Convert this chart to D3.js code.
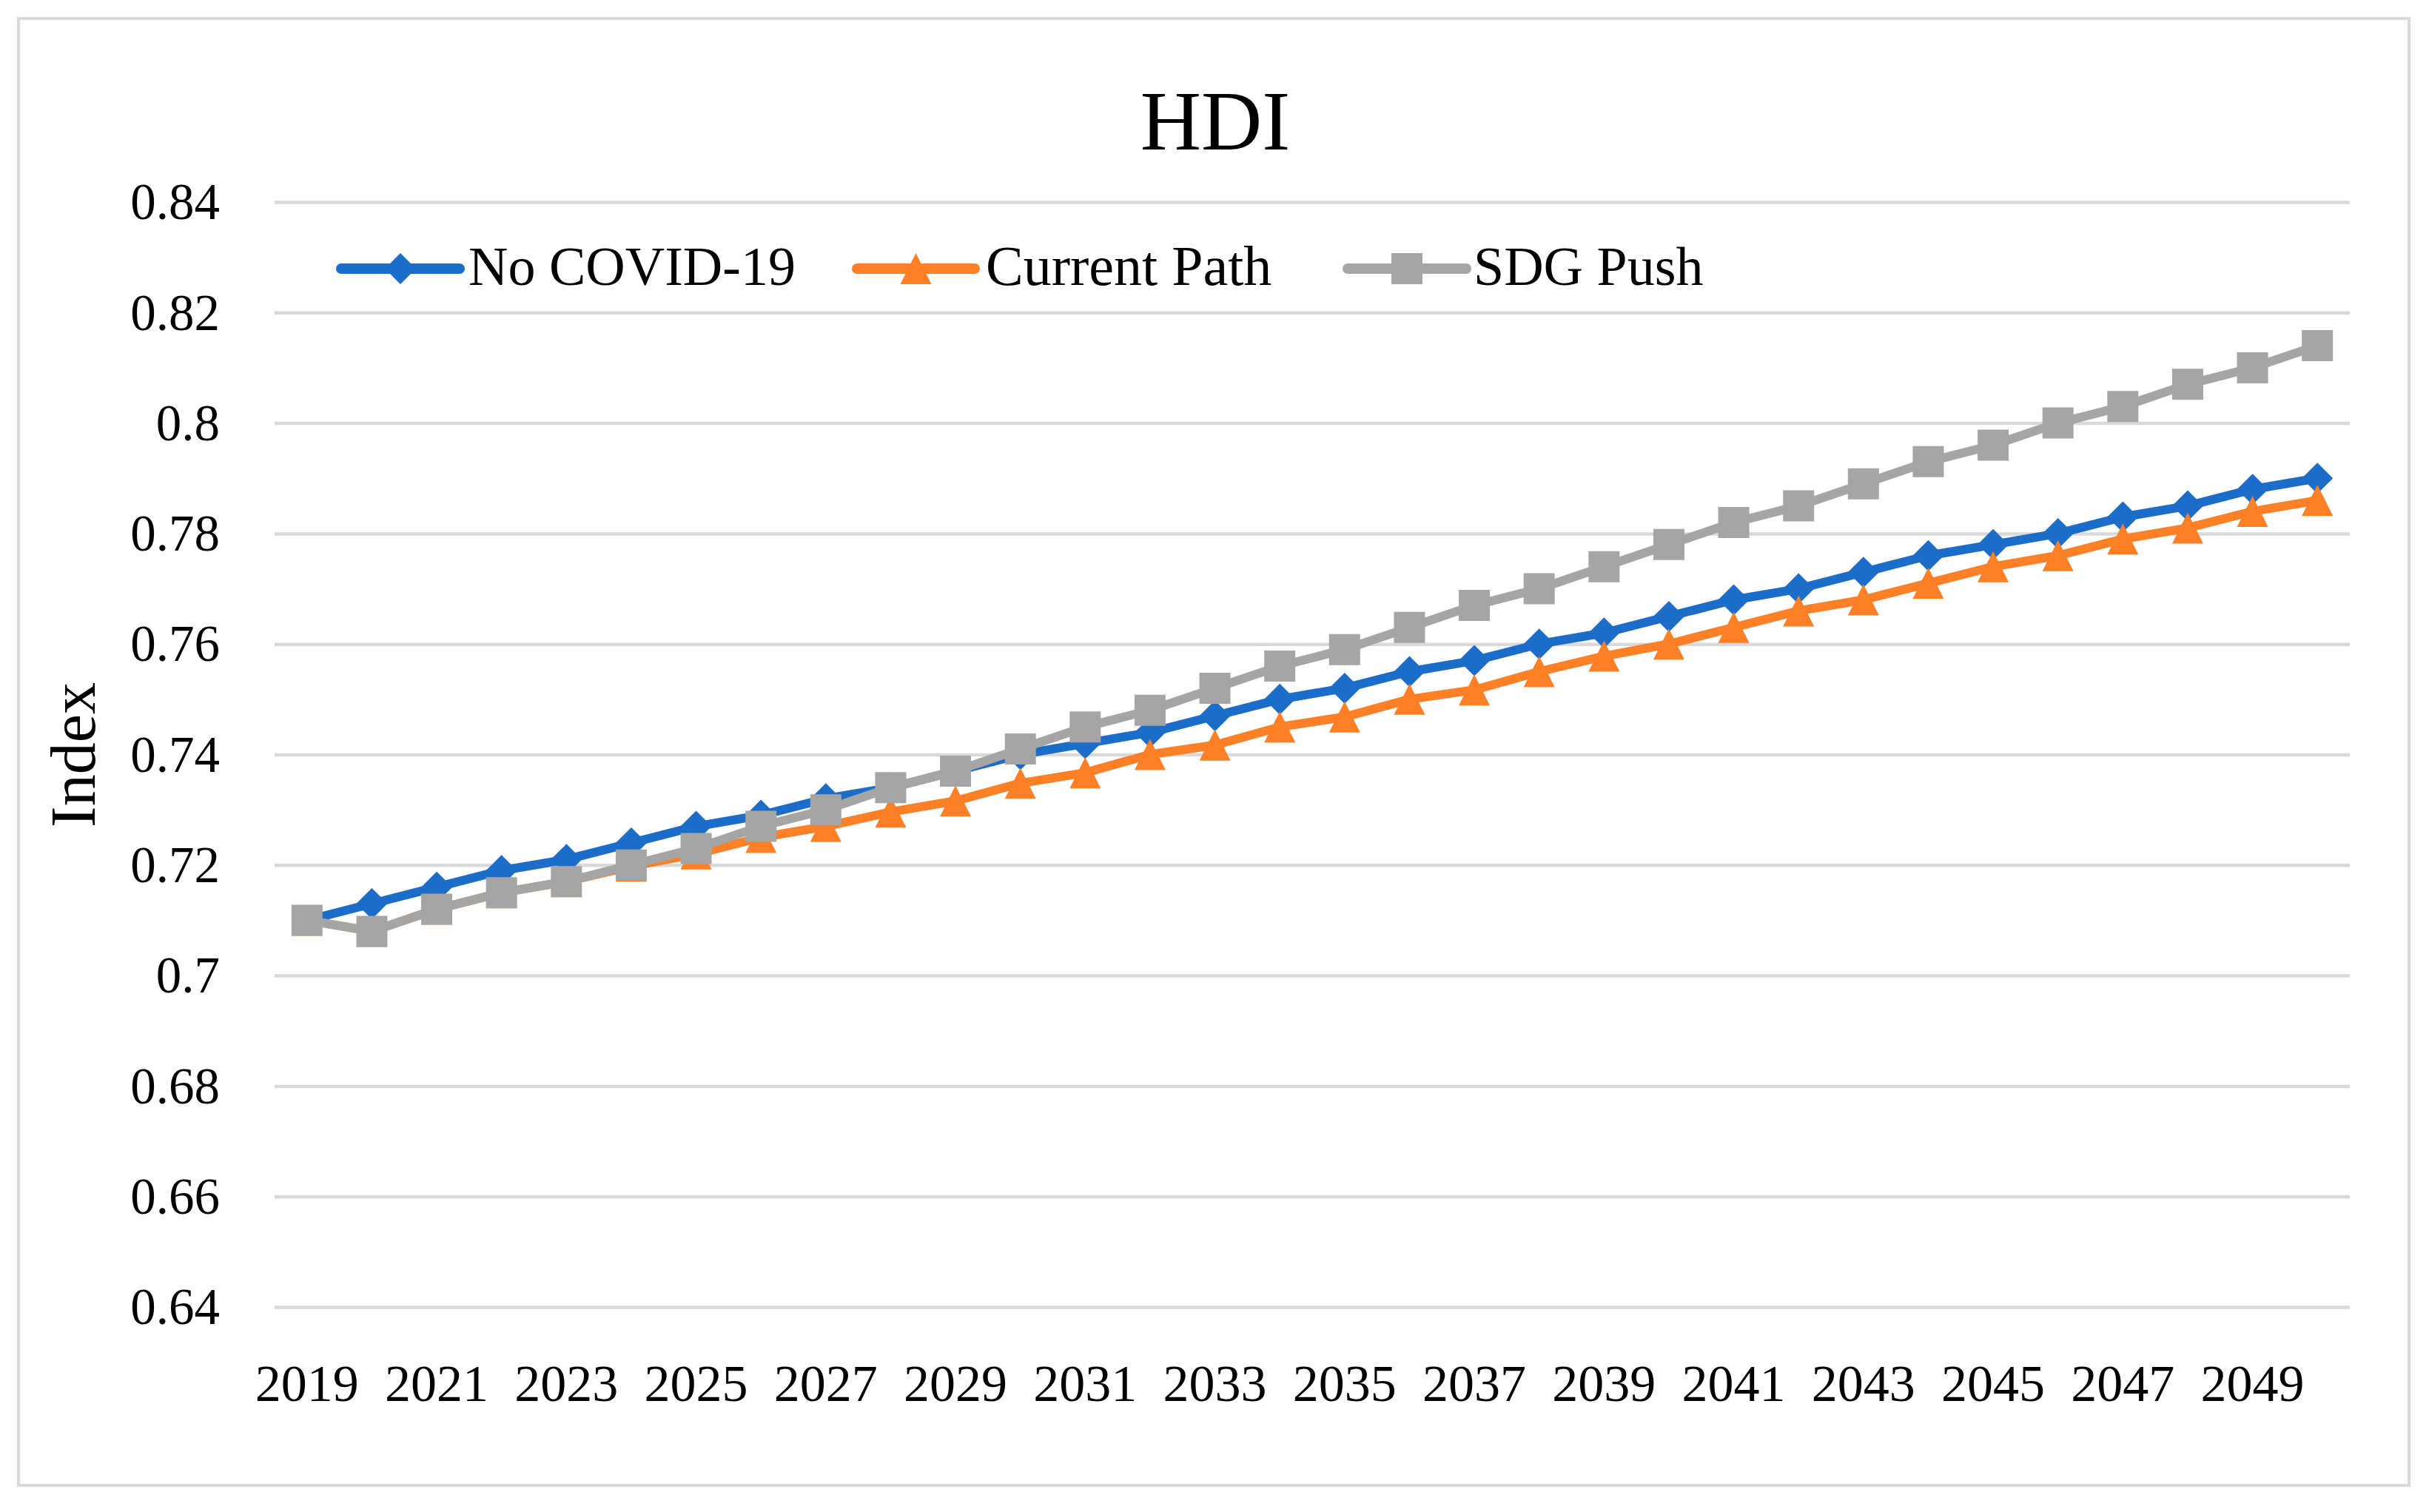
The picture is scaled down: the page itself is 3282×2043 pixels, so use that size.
<!DOCTYPE html>
<html>
<head>
<meta charset="utf-8">
<script src="https://cdn.jsdelivr.net/npm/d3@7"></script>
<style>
  body { margin: 0; background: #fff; }
  text { font-family: 'Liberation Serif', 'Times New Roman', serif; fill: #000; }
</style>
</head>
<body>
<div id="plot_area"></div>
<script>
// Chart data
const years = d3.range(2019, 2051);
const noCovid = [0.710, 0.713, 0.716, 0.719, 0.721, 0.724, 0.727, 0.729, 0.732, 0.734, 0.737, 0.740, 0.742, 0.744, 0.747, 0.750,
                 0.752, 0.755, 0.757, 0.760, 0.762, 0.765, 0.768, 0.770, 0.773, 0.776, 0.778, 0.780, 0.783, 0.785, 0.788, 0.790];
const currentPath = [0.710, 0.708, 0.712, 0.715, 0.717, 0.7198, 0.722, 0.725, 0.727, 0.7296, 0.7316, 0.7348, 0.7367, 0.740, 0.7417, 0.745,
                     0.7468, 0.750, 0.7517, 0.755, 0.7578, 0.760, 0.763, 0.766, 0.768, 0.771, 0.774, 0.776, 0.779, 0.781, 0.784, 0.786];
const sdgPush = [0.710, 0.708, 0.712, 0.715, 0.717, 0.720, 0.723, 0.727, 0.730, 0.734, 0.737, 0.741, 0.745, 0.748, 0.752, 0.756,
                 0.759, 0.763, 0.767, 0.770, 0.774, 0.778, 0.782, 0.785, 0.789, 0.793, 0.796, 0.800, 0.803, 0.807, 0.810, 0.814];
const seriesNames = ['No COVID-19', 'Current Path', 'SDG Push'];
const yTicks = [0.64, 0.66, 0.68, 0.7, 0.72, 0.74, 0.76, 0.78, 0.8, 0.82, 0.84];
const xTickYears = years.filter((y, i) => i % 2 === 0);

// Size and plot box
const w = 3282;
const h = 2043;
const plotLeft = 371, plotRight = 3175, plotTop = 273, plotBottom = 1766;

const colors = ['#1c6cca', '#fd7f26', '#a5a5a5'];
const shapes = ['diamond', 'triangle', 'square'];
const m = 21; // half marker size

function markerPath(shape) {
  if (shape === 'diamond') return `M0,${-m}L${m},0L0,${m}L${-m},0Z`;
  if (shape === 'triangle') return `M0,${-m}L${m},${m}L${-m},${m}Z`;
  return `M${-m},${-m}H${m}V${m}H${-m}Z`;
}

const svg = d3.select('#plot_area')
  .append('svg')
  .attr('width', w)
  .attr('height', h);

// Outer frame
svg.append('rect')
  .attr('x', 25).attr('y', 25)
  .attr('width', 3230).attr('height', 1982)
  .attr('fill', '#fff')
  .attr('stroke', '#d9d9d9')
  .attr('stroke-width', 4);

const xScale = d3.scaleBand()
  .domain(years)
  .range([plotLeft, plotRight]);

const yScale = d3.scaleLinear()
  .domain([0.64, 0.84])
  .range([plotBottom, plotTop]);

// Y axis with gridlines
const yAxis = svg.append('g')
  .attr('transform', 'translate(' + plotLeft + ',0)')
  .call(d3.axisLeft(yScale)
    .tickValues(yTicks)
    .tickSize(-(plotRight - plotLeft))
    .tickPadding(74)
    .tickFormat(d => String(d)));
yAxis.select('.domain').remove();
yAxis.selectAll('line').attr('stroke', '#d9d9d9').attr('stroke-width', 4.5);
yAxis.selectAll('text')
  .style('font-family', "'Liberation Serif', serif")
  .style('font-size', '69px')
  .attr('dy', '0.33em');

// X axis
const xAxis = svg.append('g')
  .attr('transform', 'translate(0,' + plotBottom + ')')
  .call(d3.axisBottom(xScale)
    .tickValues(xTickYears)
    .tickSize(0)
    .tickPadding(77));
xAxis.select('.domain').remove();
xAxis.selectAll('text')
  .style('font-family', "'Liberation Serif', serif")
  .style('font-size', '70px');

const cx = (d) => xScale(d) + xScale.bandwidth() / 2;
const allSeries = [noCovid, currentPath, sdgPush];

allSeries.forEach(function (vals, s) {
  const g = svg.append('g');
  g.append('path')
    .datum(vals)
    .attr('fill', 'none')
    .attr('stroke', colors[s])
    .attr('stroke-width', 12)
    .attr('stroke-linejoin', 'round')
    .attr('d', d3.line()
      .x((d, i) => cx(years[i]))
      .y((d) => yScale(d)));
  g.selectAll('path.mk')
    .data(vals)
    .join('path')
    .attr('class', 'mk')
    .attr('fill', colors[s])
    .attr('transform', (d, i) => 'translate(' + cx(years[i]) + ',' + yScale(d) + ')')
    .attr('d', markerPath(shapes[s]));
});

// Title
svg.append('text')
  .attr('x', 1642)
  .attr('y', 202)
  .attr('text-anchor', 'middle')
  .style('font-size', '114px')
  .text('HDI');

// Y axis label
svg.append('text')
  .attr('transform', 'translate(128,1020) rotate(-90)')
  .attr('text-anchor', 'middle')
  .style('font-size', '86px')
  .text('Index');

// Legend
const legendLines = [[461, 621], [1158, 1317], [1821, 1981]];
const legendText = [633, 1332, 1991];
const legendY = 363;
seriesNames.forEach(function (name, s) {
  const lg = svg.append('g');
  lg.append('line')
    .attr('x1', legendLines[s][0]).attr('x2', legendLines[s][1])
    .attr('y1', legendY).attr('y2', legendY)
    .attr('stroke', colors[s])
    .attr('stroke-width', 14)
    .attr('stroke-linecap', 'round');
  lg.append('path')
    .attr('transform', 'translate(' + (legendLines[s][0] + legendLines[s][1]) / 2 + ',' + legendY + ')')
    .attr('fill', colors[s])
    .attr('d', markerPath(shapes[s]));
  lg.append('text')
    .attr('x', legendText[s])
    .attr('y', 385)
    .style('font-size', s === 1 ? '76px' : '74px')
    .text(name);
});
</script>
</body>
</html>
